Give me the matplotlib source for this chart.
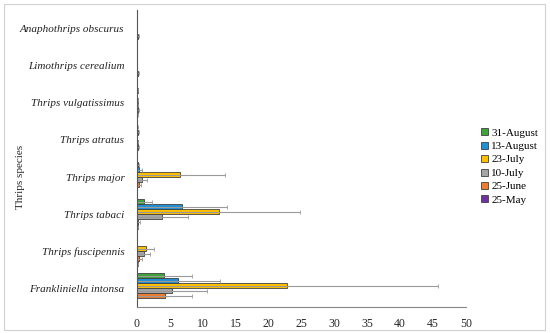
import numpy as np
import matplotlib
matplotlib.use('Agg')
from matplotlib import pyplot as plt
from matplotlib.patches import Rectangle

species = ['Frankliniella intonsa', 'Thrips fuscipennis', 'Thrips tabaci', 'Thrips major',
           'Thrips atratus', 'Thrips vulgatissimus', 'Limothrips cerealium', 'Anaphothrips obscurus']
dates = ['25-May', '25-June', '10-July', '23-July', '13-August', '31-August']
colors = ['#7030a0', '#ed7d31', '#a5a5a5', '#ffc000', '#1f8fd6', '#3fa33a']

# mean counts per species (bottom to top) for each date
may25 = [0.0, 0.1, 0.1, 0.0, 0.0, 0.05, 0.0, 0.0]
jun25 = [4.2, 0.3, 0.2, 0.3, 0.15, 0.15, 0.15, 0.15]
jul10 = [5.3, 1.0, 3.8, 0.7, 0.1, 0.1, 0.0, 0.0]
jul23 = [22.8, 1.3, 12.4, 6.6, 0.0, 0.1, 0.0, 0.0]
aug13 = [6.3, 0.0, 6.8, 0.3, 0.15, 0.0, 0.0, 0.0]
aug31 = [4.1, 0.0, 1.05, 0.1, 0.05, 0.1, 0.0, 0.0]

may25_err = [0.0, 0.1, 0.1, 0.0, 0.0, 0.1, 0.0, 0.0]
jun25_err = [4.2, 0.5, 0.2, 0.3, 0.15, 0.15, 0.15, 0.15]
jul10_err = [5.3, 1.0, 3.9, 0.9, 0.1, 0.1, 0.0, 0.0]
jul23_err = [22.9, 1.3, 12.4, 6.8, 0.0, 0.1, 0.0, 0.0]
aug13_err = [6.4, 0.0, 6.9, 0.4, 0.15, 0.0, 0.0, 0.0]
aug31_err = [4.3, 0.0, 1.25, 0.2, 0.1, 0.1, 0.0, 0.0]

values = [may25, jun25, jul10, jul23, aug13, aug31]
errors = [may25_err, jun25_err, jul10_err, jul23_err, aug13_err, aug31_err]

plt.rcParams['font.family'] = ['Liberation Serif', 'DejaVu Serif']

fig = plt.figure(figsize=(5.5, 3.33), dpi=100)
ax = fig.add_axes([0.249, 0.078, 0.598, 0.892])

y = np.arange(len(species))
h = 0.135
handles = []
for i, (vals, errs, c, lab) in enumerate(zip(values, errors, colors, dates)):
    bars = ax.barh(y + (i - 2.5) * h, vals, height=h, color=c, edgecolor='#404040',
                   linewidth=0.6, label=lab,
                   xerr=errs, error_kw=dict(ecolor='#9a9a9a', elinewidth=0.8, capsize=1.5, capthick=0.6))
    handles.append(bars)

ax.set_xlim(0, 50)
ax.set_ylim(-0.5, 7.5)
ax.set_xticks(range(0, 51, 5))
ax.set_yticks(y)
ax.tick_params(axis='both', length=0, labelsize=8.5, colors='#262626')
ax.tick_params(axis='x', pad=8)
ax.tick_params(axis='y', pad=9)
ax.set_yticklabels(species, fontstyle='italic', fontsize=8, color='#222222')
for s in ('top', 'right'):
    ax.spines[s].set_visible(False)
ax.spines['left'].set_color('#555555')
ax.spines['bottom'].set_color('#888888')
fig.text(0.037, 0.47, 'Thrips species', rotation=90, fontsize=8, color='#262626',
         ha='center', va='center')

leg = ax.legend(handles=handles[::-1], labels=dates[::-1], loc='center left',
                bbox_to_anchor=(0.857, 0.50), bbox_transform=fig.transFigure,
                frameon=False, fontsize=8,
                handlelength=0.6, handleheight=0.6, handletextpad=0.3, labelspacing=0.36)

fig.patches.append(Rectangle((0.007, 0.009), 0.984, 0.979, transform=fig.transFigure,
                             fill=False, edgecolor='#d0d0d0', linewidth=0.8))

fig.savefig('out.png', dpi=100)
